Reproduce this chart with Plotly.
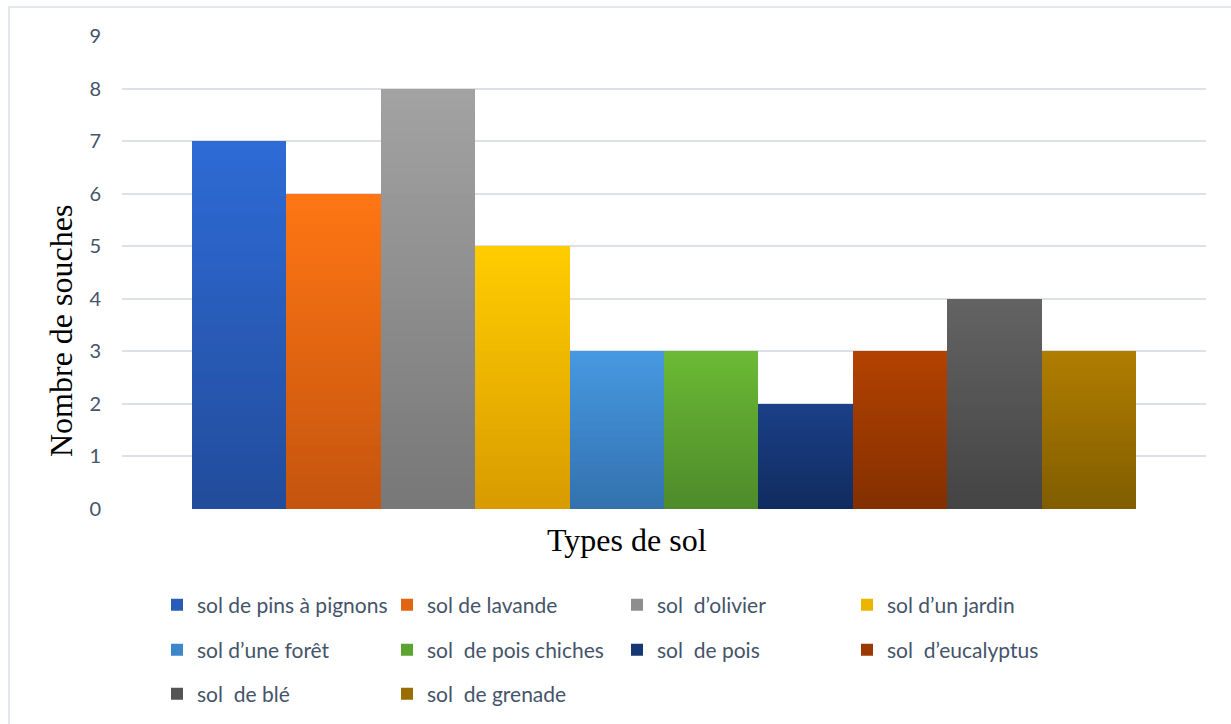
import plotly.graph_objects as go

# ---- data ----
series_names = [
    "sol de pins à pignons", "sol de lavande", "sol  d’olivier", "sol d’un jardin",
    "sol d’une forêt", "sol  de pois chiches", "sol  de pois", "sol  d’eucalyptus",
    "sol  de blé", "sol  de grenade",
]
values = [7, 6, 8, 5, 3, 3, 2, 3, 4, 3]
top_colors = ["#2E6BD6", "#FF7614", "#A3A3A3", "#FFCD00", "#4699E2", "#6BBA35",
              "#1B4087", "#B34200", "#636363", "#B07D00"]
bottom_colors = ["#224C9B", "#C4540E", "#777777", "#D99B00", "#3371AE", "#4E8A2A",
                 "#102B60", "#832F00", "#444444", "#815D00"]
y_ticks = [0, 1, 2, 3, 4, 5, 6, 7, 8, 9]
legend_rows = [0, 0, 0, 0, 1, 1, 1, 1, 2, 2]

N_SLICES = 40


def hex2rgb(h):
    h = h.lstrip("#")
    return tuple(int(h[i:i + 2], 16) for i in (0, 2, 4))


def mix(c1, c2, t):
    a, b = hex2rgb(c1), hex2rgb(c2)
    return "rgb(%d,%d,%d)" % tuple(round(a[i] + (b[i] - a[i]) * t) for i in range(3))


fig = go.Figure()
legend_ids = ["legend", "legend2", "legend3"]
for i, (name, v) in enumerate(zip(series_names, values)):
    step = v / N_SLICES
    for k in range(N_SLICES):
        t = 1 - (k + 0.5) / N_SLICES  # 0 at top, 1 at bottom
        fig.add_trace(go.Bar(
            x=[name], y=[step], base=[k * step],
            marker=dict(color=mix(top_colors[i], bottom_colors[i], t), line=dict(width=0)),
            width=1.0,
            name=name,
            showlegend=(k == N_SLICES // 2),
            legend=legend_ids[legend_rows[i]],
            hoverinfo="skip" if k != N_SLICES // 2 else None,
        ))

# plot area geometry (pixels)
L, R, T, B = 122, 1206, 36, 509
W, H = 1231, 724
pw, ph = R - L, B - T


def px_x(p):
    return (p - L) / pw


def px_y(p):
    return (B - p) / ph


text_col = "#44546A"
legend_common = dict(
    orientation="h", xanchor="left", yanchor="middle",
    entrywidth=185, entrywidthmode="pixels",
    font=dict(family="Lato", size=21, color=text_col),
    bgcolor="rgba(0,0,0,0)", itemclick=False, itemdoubleclick=False,
    traceorder="normal",
)
row_y = [605, 650, 694]

fig.update_layout(
    width=W, height=H,
    margin=dict(l=L, r=W - R, t=T, b=H - B, autoexpand=False),
    paper_bgcolor="white", plot_bgcolor="white",
    barmode="overlay", bargap=0,
    xaxis=dict(range=[-1.2415, 10.2415], showticklabels=False, showgrid=False,
               zeroline=False, showline=False, ticks=""),
    yaxis=dict(range=[0, 9], tickvals=y_ticks, showgrid=True, gridcolor="#DDE1E6",
               gridwidth=1.5, zeroline=False, showline=False, ticks="",
               ticklabelstandoff=20,
               tickfont=dict(family="Lato", size=20, color=text_col)),
    legend=dict(legend_common, x=px_x(157), y=px_y(row_y[0])),
    legend2=dict(legend_common, x=px_x(157), y=px_y(row_y[1])),
    legend3=dict(legend_common, x=px_x(157), y=px_y(row_y[2])),
    showlegend=True,
    annotations=[
        dict(text="Types de sol", xref="paper", yref="paper", x=px_x(627), y=px_y(540),
             xanchor="center", yanchor="middle", showarrow=False,
             font=dict(family="Liberation Serif", size=32, color="black")),
        dict(text="Nombre de souches", xref="paper", yref="paper", x=px_x(61), y=px_y(331),
             xanchor="center", yanchor="middle", showarrow=False, textangle=-90,
             font=dict(family="Liberation Serif", size=32, color="black")),
    ],
    shapes=[
        dict(type="rect", xref="paper", yref="paper", x0=px_x(9), x1=px_x(1240),
             y0=px_y(740), y1=px_y(7), line=dict(color="#DCE0E6", width=1.5),
             fillcolor="rgba(0,0,0,0)", layer="below"),
    ],
)

fig.write_html("out.html")
